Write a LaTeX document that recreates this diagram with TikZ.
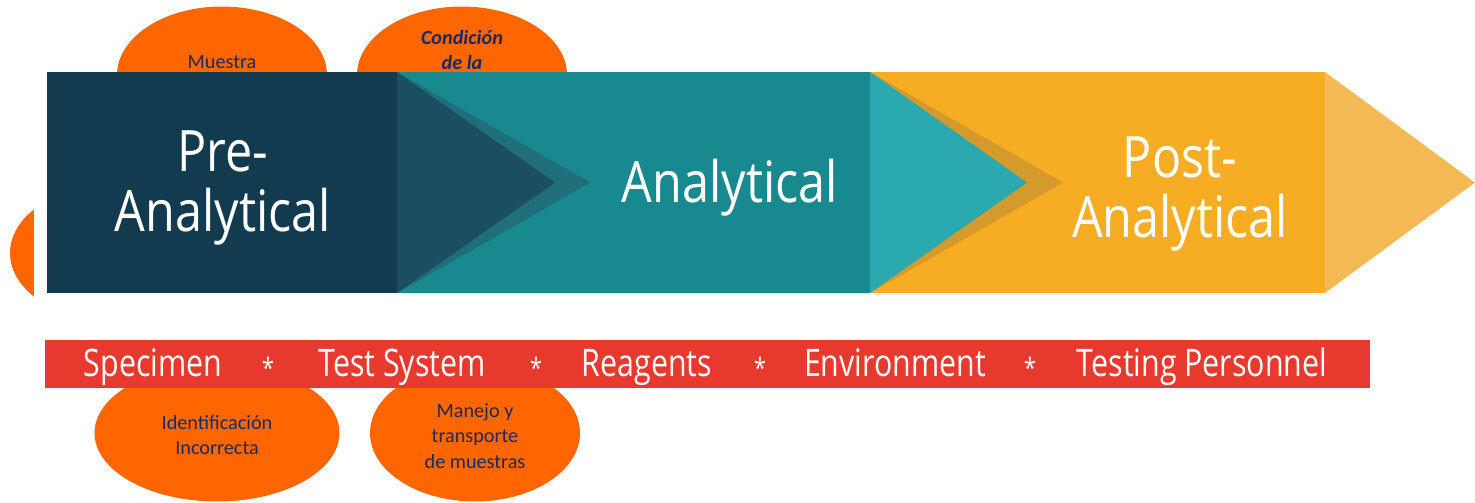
\documentclass[tikz,border=0pt]{standalone}
\usepackage{fontspec}
\usetikzlibrary{shapes.geometric}
\setmainfont{Open Sans}
\newfontfamily\bandfont[FakeStretch=0.85]{Open Sans}
\newfontfamily\barfont[FakeStretch=0.8]{Open Sans}
\newfontfamily\notefont{Carlito}
\definecolor{navy}{HTML}{123B4F}
\definecolor{navytri}{HTML}{1B4E61}
\definecolor{teal}{HTML}{18898F}
\definecolor{tealshade}{HTML}{1F6E7A}
\definecolor{tealtri}{HTML}{2AAAAE}
\definecolor{amber}{HTML}{F6AD24}
\definecolor{ochre}{HTML}{D49A2C}
\definecolor{amberlight}{HTML}{F4B955}
\definecolor{barred}{HTML}{E8392F}
\definecolor{blobc}{HTML}{FF6600}
\definecolor{notec}{HTML}{1B2A5E}
\newcommand{\sep}{*}

\begin{document}
\begin{tikzpicture}[x=0.02cm,y=-0.02cm,
    blob/.style={ellipse,fill=blobc,minimum width=4.2cm,minimum height=2.74cm,inner sep=0pt},
    note/.style={font=\notefont\fontsize{11.5}{14.5}\selectfont,text=notec,align=center},
    stage/.style={font=\bandfont\fontsize{32.5}{34}\selectfont,text=white,align=center},
    factor/.style={font=\barfont\fontsize{21.6}{24}\selectfont,text=white,anchor=base,inner sep=0pt}]
    \useasboundingbox (0,0) rectangle (1475,503);
    \node[blob] (M) at (222,75) {};
    \node[blob] (C) at (462,75) {};
    \node[blob] (L) at (115,253) {};
    \node[blob,minimum width=4.9cm] (I) at (217,433) {};
    \node[blob] (T) at (475,433) {};
    \node[note] (Mt) at (222,62) {Muestra};
    \node[note,font=\notefont\bfseries\itshape\fontsize{11.5}{14.5}\selectfont] (Ct) at (462,50) {Condición\\de la};
    \node[note] (It) at (217,435) {Identificación\\Incorrecta};
    \node[note] (Tt) at (475,436) {Manejo y\\transporte\\de muestras};
    \fill[white] (34,72) rectangle (1475,388);
    \fill[navy] (47,72) rectangle (397,293);
    \fill[teal] (397,72) rectangle (870,293);
    \fill[tealshade] (397,72) -- (590,182.5) -- (397,293) -- cycle;
    \fill[navytri] (397,72) -- (555,182.5) -- (397,293) -- cycle;
    \fill[amber] (870,72) rectangle (1325,293);
    \fill[ochre] (870,72) -- (1063,182.5) -- (870,293) -- cycle;
    \fill[tealtri] (870,72) -- (1027,182.5) -- (870,293) -- cycle;
    \fill[amberlight] (1325,72) -- (1475,182.5) -- (1325,293) -- cycle;
    \node[stage] (pre) at (223,188) {Pre-\\Analytical};
    \node[stage,anchor=base] (ana) at (730,203) {Analytical};
    \node[stage] (post) at (1180,194) {Post-\\Analytical};
    \fill[barred] (45,340) rectangle (1370,388);
    \node[factor] (sp) at (153,377) {Specimen};
    \node[factor] (ts) at (402,377) {Test System};
    \node[factor] (rg) at (647,377) {Reagents};
    \node[factor] (en) at (895,377) {Environment};
    \node[factor] (tp) at (1202,377) {Testing Personnel};
    \foreach \x in {268,536,760,1030}
      \node[factor,font=\barfont\fontsize{16}{18}\selectfont] (s\x) at (\x,378) {\sep};
\end{tikzpicture}
\end{document}
